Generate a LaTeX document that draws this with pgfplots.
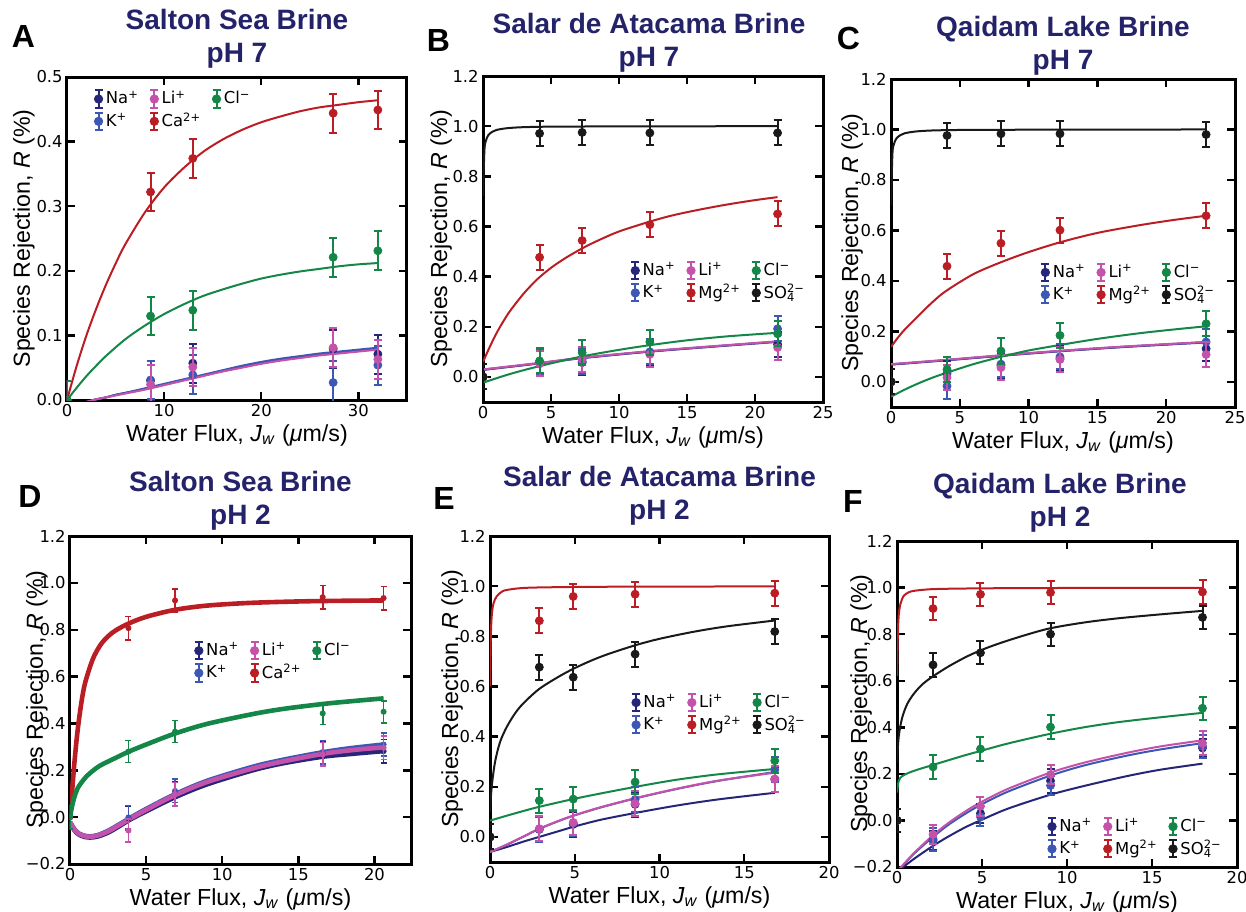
\documentclass[border=0pt]{standalone}
\usepackage{fontspec}
\setmainfont{Liberation Sans}
\newfontfamily\dejavu{DejaVu Sans}
\usepackage{pgfplots}
\pgfplotsset{compat=1.18}

\definecolor{cNa}{RGB}{38,38,120}
\definecolor{cK}{RGB}{60,88,180}
\definecolor{cLi}{RGB}{196,82,170}
\definecolor{cRed}{RGB}{186,30,36}
\definecolor{cCl}{RGB}{20,135,72}
\definecolor{cBk}{RGB}{25,25,25}
\definecolor{cTitle}{RGB}{36,34,105}

\newcommand{\tickf}{\dejavu\fontsize{8.2}{10}\selectfont}
\newcommand{\legf}{\dejavu\fontsize{8.2}{10}\selectfont}
\newcommand{\labf}{\fontsize{11.6}{13}\selectfont}
\newcommand{\titf}{\fontsize{14}{16.5}\selectfont\bfseries}
\newcommand{\letf}{\fontsize{16}{16}\selectfont\bfseries}

\pgfplotsset{
  every axis title/.style={font=\titf, text=cTitle, align=center, at={(0.5,1)}, anchor=south, inner sep=0pt},
  every axis x label/.style={font=\labf, at={([yshift=-20.5pt]axis description cs:0.5,0)}, anchor=base},
  every axis y label/.style={font=\labf, at={([xshift=-17pt]axis description cs:0,0.5)}, anchor=base, rotate=90},
  panel/.style={
    scale only axis,
    clip marker paths=true,
    axis line style={line width=1.5pt, black},
    tick align=inside,
    major tick length=4pt,
    tick style={line width=1.2pt, black},
    /pgf/number format/assume math mode=true,
    xticklabel style={font=\tickf, inner sep=2pt},
    yticklabel style={font=\tickf, inner sep=2pt},
    xlabel={Water Flux, \textit{J}\textsubscript{\textit{w}} (\textit{μ}m/s)},
    ylabel={Species Rejection, \textit{R} (\%)},
    legend style={draw=none, fill=none, font=\legf, inner sep=0pt, anchor=north west,
      nodes={inner sep=1.2pt}, row sep=0.5pt,
      /tikz/every even column/.append style={column sep=4pt}},
    legend columns=3,
    legend cell align=left,
  },
  pts/.style={only marks, mark=*, mark size=2pt, color=#1, forget plot,
    /pgfplots/error bars/y dir=both, /pgfplots/error bars/y explicit,
    /pgfplots/error bars/error bar style={line width=1pt, #1},
    /pgfplots/error bars/error mark options={rotate=90, mark size=2pt, line width=1pt, #1}},
  ptsD/.style={only marks, mark=*, mark size=1.3pt, color=#1, forget plot,
    /pgfplots/error bars/y dir=both, /pgfplots/error bars/y explicit,
    /pgfplots/error bars/error bar style={line width=0.8pt, #1},
    /pgfplots/error bars/error mark options={rotate=90, mark size=1.5pt, line width=0.8pt, #1}},
  fitc/.style={no marks, smooth, line width=1pt, color=#1, forget plot},
  fitD/.style={no marks, smooth, line width=2.3pt, color=#1, forget plot},
  legerr/.style={color=#1, legend image code/.code={
      \draw[#1, line width=1pt] (0pt,-4.3pt) -- (0pt,4.3pt) (-2pt,-4.3pt) -- (2pt,-4.3pt) (-2pt,4.3pt) -- (2pt,4.3pt);
      \fill[#1] (0pt,0pt) circle (2.1pt);}},
}

\newcommand{\LNa}{\addlegendimage{legerr=cNa}\addlegendentry{Na\textsuperscript{+}}}
\newcommand{\LK}{\addlegendimage{legerr=cK}\addlegendentry{K\textsuperscript{+}}}
\newcommand{\LLi}{\addlegendimage{legerr=cLi}\addlegendentry{Li\textsuperscript{+}}}
\newcommand{\LCa}{\addlegendimage{legerr=cRed}\addlegendentry{Ca\textsuperscript{2+}}}
\newcommand{\LMg}{\addlegendimage{legerr=cRed}\addlegendentry{Mg\textsuperscript{2+}}}
\newcommand{\LCl}{\addlegendimage{legerr=cCl}\addlegendentry{Cl\textsuperscript{−}}}
\newcommand{\LSO}{\addlegendimage{legerr=cBk}\addlegendentry{SO\rlap{\textsubscript{4}}\textsuperscript{2−}}}

\begin{document}
\begin{tikzpicture}
\path[use as bounding box] (0,0) rectangle (623pt,-455.5pt);

% ---------------- A ----------------
\begin{axis}[panel, at={(33.5pt,-38.5pt)}, anchor=north west, width=170pt, height=161.5pt,
  xmin=0, xmax=35, ymin=0, ymax=0.5, xtick={0,10,20,30},
  ytick={0,0.1,0.2,0.3,0.4,0.5}, yticklabels={0.0,0.1,0.2,0.3,0.4,0.5},
  title={Salton Sea Brine\\pH 7}, title style={yshift=4.1pt},
  ylabel style={at={([xshift=-18.5pt]axis description cs:0,0.5)}},
  legend style={at={(0.077,0.965)}}]
\addplot[fitc=cRed] coordinates {(0,0)(1,0.053)(2,0.100)(3,0.141)(4,0.178)(5,0.211)(6,0.241)(8,0.290)(10,0.329)(12,0.359)(14,0.384)(16,0.403)(18,0.418)(20,0.430)(22,0.439)(24,0.447)(26,0.453)(28,0.457)(30,0.461)(32,0.464)};
\addplot[fitc=cCl] coordinates {(0,0)(1,0.019)(2,0.037)(3,0.053)(4,0.068)(6,0.094)(8,0.115)(10,0.133)(12,0.148)(14,0.161)(16,0.171)(18,0.180)(20,0.188)(22,0.194)(24,0.199)(26,0.203)(28,0.207)(30,0.210)(32,0.212)};
\addplot[fitc=cNa] coordinates {(0,-0.012)(1,-0.008)(2,-0.003)(3,0.001)(4,0.004)(5,0.008)(6,0.011)(8,0.017)(10,0.024)(12,0.031)(14,0.038)(16,0.045)(18,0.051)(20,0.057)(22,0.062)(24,0.066)(26,0.070)(28,0.073)(30,0.076)(32,0.079)};
\addplot[fitc=cK] coordinates {(0,-0.012)(1,-0.008)(2,-0.003)(3,0.001)(4,0.004)(5,0.008)(6,0.011)(8,0.018)(10,0.025)(12,0.032)(14,0.039)(16,0.046)(18,0.053)(20,0.059)(22,0.064)(24,0.068)(26,0.072)(28,0.075)(30,0.078)(32,0.081)};
\addplot[fitc=cLi] coordinates {(0,-0.012)(1,-0.008)(2,-0.003)(3,0.001)(4,0.004)(5,0.007)(6,0.010)(8,0.016)(10,0.023)(12,0.030)(14,0.037)(16,0.044)(18,0.050)(20,0.056)(22,0.061)(24,0.065)(26,0.069)(28,0.072)(30,0.075)(32,0.078)};
\addplot[pts=cNa] coordinates {(0,0) +- (0,0.03) (8.6,0.030) +- (0,0.03) (12.95,0.057) +- (0,0.03) (27.4,0.079) +- (0,0.03) (32,0.071) +- (0,0.03)};
\addplot[pts=cK] coordinates {(0,0) +- (0,0.03) (8.6,0.031) +- (0,0.03) (12.95,0.039) +- (0,0.03) (27.4,0.027) +- (0,0.033) (32,0.054) +- (0,0.03)};
\addplot[pts=cLi] coordinates {(0,0) +- (0,0.03) (8.6,0.024) +- (0,0.03) (12.95,0.051) +- (0,0.03) (27.4,0.081) +- (0,0.03) (32,0.063) +- (0,0.03)};
\addplot[pts=cRed] coordinates {(0,0) +- (0,0.03) (8.6,0.322) +- (0,0.03) (12.95,0.374) +- (0,0.03) (27.4,0.444) +- (0,0.03) (32,0.449) +- (0,0.03)};
\addplot[pts=cCl] coordinates {(0,0) +- (0,0.03) (8.6,0.130) +- (0,0.03) (12.95,0.139) +- (0,0.03) (27.4,0.221) +- (0,0.03) (32,0.231) +- (0,0.03)};
\LNa\LLi\LCl\LK\LCa
\end{axis}

% ---------------- B ----------------
\begin{axis}[panel, at={(241.5pt,-38pt)}, anchor=north west, width=170pt, height=163pt,
  xmin=0, xmax=25, ymin=-0.1, ymax=1.2, xtick={0,5,10,15,20,25},
  ytick={0,0.2,0.4,0.6,0.8,1.0,1.2}, yticklabels={0.0,0.2,0.4,0.6,0.8,1.0,1.2},
  title={Salar de Atacama Brine\\pH 7}, title style={yshift=1.6pt, xshift=-2pt},
  ylabel style={at={([xshift=-18pt]axis description cs:0,0.5)}},
  legend style={at={(0.432,0.436)}}]
\addplot[fitc=cBk] coordinates {(0,0.72)(0.1,0.90)(0.2,0.94)(0.4,0.965)(0.7,0.978)(1,0.985)(1.5,0.99)(2,0.993)(3,0.996)(5,0.998)(10,0.999)(21.66,1.0)};
\addplot[fitc=cRed] coordinates {(0,0.06)(0.5,0.12)(1,0.175)(1.5,0.222)(2,0.264)(3,0.333)(4,0.39)(5,0.435)(6,0.472)(7.3,0.513)(8.5,0.545)(10,0.58)(12.3,0.62)(14,0.645)(16,0.668)(18,0.688)(20,0.705)(21.66,0.717)};
\addplot[fitc=cNa] coordinates {(0,0.028)(4,0.053)(7.3,0.075)(12.3,0.101)(17,0.121)(21.66,0.140)};
\addplot[fitc=cK] coordinates {(0,0.029)(4,0.054)(7.3,0.076)(12.3,0.102)(17,0.122)(21.66,0.141)};
\addplot[fitc=cLi] coordinates {(0,0.03)(4,0.055)(7.3,0.077)(12.3,0.103)(17,0.123)(21.66,0.142)};
\addplot[fitc=cCl] coordinates {(0,-0.023)(1,-0.005)(2,0.012)(3,0.027)(4,0.041)(5,0.054)(7.3,0.082)(10,0.108)(12.3,0.127)(15,0.146)(18,0.162)(21.66,0.176)};
\addplot[pts=cNa] coordinates {(0,0) +- (0,0.05) (4.16,0.055) +- (0,0.05) (7.29,0.057) +- (0,0.05) (12.27,0.095) +- (0,0.05) (21.66,0.130) +- (0,0.05)};
\addplot[pts=cK] coordinates {(0,0) +- (0,0.05) (4.16,0.060) +- (0,0.05) (7.29,0.062) +- (0,0.05) (12.27,0.100) +- (0,0.05) (21.66,0.192) +- (0,0.05)};
\addplot[pts=cLi] coordinates {(0,0) +- (0,0.05) (4.16,0.052) +- (0,0.05) (7.29,0.070) +- (0,0.05) (12.27,0.090) +- (0,0.05) (21.66,0.117) +- (0,0.05)};
\addplot[pts=cRed] coordinates {(0,0) +- (0,0.05) (4.16,0.477) +- (0,0.05) (7.29,0.544) +- (0,0.05) (12.27,0.607) +- (0,0.05) (21.66,0.650) +- (0,0.05)};
\addplot[pts=cCl] coordinates {(0,0) +- (0,0.05) (4.16,0.064) +- (0,0.05) (7.29,0.097) +- (0,0.05) (12.27,0.139) +- (0,0.05) (21.66,0.172) +- (0,0.05)};
\addplot[pts=cBk] coordinates {(0,0) +- (0,0.05) (4.16,0.971) +- (0,0.05) (7.29,0.975) +- (0,0.05) (12.27,0.973) +- (0,0.05) (21.66,0.973) +- (0,0.05)};
\LNa\LLi\LCl\LK\LMg\LSO
\end{axis}

% ---------------- C ----------------
\begin{axis}[panel, at={(445.5pt,-39.5pt)}, anchor=north west, width=172pt, height=164pt,
  xmin=0, xmax=25, ymin=-0.1, ymax=1.2, xtick={0,5,10,15,20,25},
  ytick={0,0.2,0.4,0.6,0.8,1.0,1.2}, yticklabels={0.0,0.2,0.4,0.6,0.8,1.0,1.2},
  title={Qaidam Lake Brine\\pH 7}, title style={yshift=1.6pt},
  ylabel style={at={([xshift=-16.5pt]axis description cs:0,0.5)}},
  legend style={at={(0.433,0.443)}}]
\addplot[fitc=cBk] coordinates {(0,0.70)(0.1,0.90)(0.2,0.94)(0.4,0.965)(0.7,0.978)(1,0.985)(1.5,0.99)(2,0.993)(3,0.996)(5,0.998)(10,0.999)(22.9,1.0)};
\addplot[fitc=cRed] coordinates {(0,0.138)(0.5,0.175)(1,0.207)(2,0.262)(3,0.315)(4,0.36)(6,0.427)(8,0.474)(10,0.514)(12.3,0.553)(15,0.59)(18,0.62)(20.5,0.641)(22.9,0.658)};
\addplot[fitc=cNa] coordinates {(0,0.068)(4,0.085)(8,0.103)(12.3,0.121)(17,0.138)(22.9,0.156)};
\addplot[fitc=cK] coordinates {(0,0.069)(4,0.086)(8,0.104)(12.3,0.122)(17,0.139)(22.9,0.157)};
\addplot[fitc=cLi] coordinates {(0,0.07)(4,0.087)(8,0.105)(12.3,0.123)(17,0.14)(22.9,0.158)};
\addplot[fitc=cCl] coordinates {(0,-0.059)(1,-0.031)(2,-0.006)(3,0.016)(4,0.035)(6,0.07)(8,0.099)(10,0.124)(12.3,0.146)(15,0.17)(18,0.192)(20.5,0.207)(22.9,0.22)};
\addplot[pts=cNa] coordinates {(0,0) +- (0,0.05) (4.07,0.033) +- (0,0.05) (7.99,0.065) +- (0,0.05) (12.28,0.092) +- (0,0.05) (22.9,0.131) +- (0,0.05)};
\addplot[pts=cK] coordinates {(0,0) +- (0,0.05) (4.07,-0.017) +- (0,0.05) (7.99,0.070) +- (0,0.05) (12.28,0.099) +- (0,0.05) (22.9,0.158) +- (0,0.05)};
\addplot[pts=cLi] coordinates {(0,0) +- (0,0.05) (4.07,0.017) +- (0,0.05) (7.99,0.056) +- (0,0.05) (12.28,0.088) +- (0,0.05) (22.9,0.108) +- (0,0.05)};
\addplot[pts=cRed] coordinates {(0,0) +- (0,0.05) (4.07,0.458) +- (0,0.05) (7.99,0.549) +- (0,0.05) (12.28,0.601) +- (0,0.05) (22.9,0.658) +- (0,0.05)};
\addplot[pts=cCl] coordinates {(0,0) +- (0,0.05) (4.07,0.049) +- (0,0.05) (7.99,0.122) +- (0,0.05) (12.28,0.184) +- (0,0.05) (22.9,0.230) +- (0,0.05)};
\addplot[pts=cBk] coordinates {(0,0) +- (0,0.05) (4.07,0.976) +- (0,0.05) (7.99,0.983) +- (0,0.05) (12.28,0.983) +- (0,0.05) (22.9,0.980) +- (0,0.05)};
\LNa\LLi\LCl\LK\LMg\LSO
\end{axis}

% ---------------- D ----------------
\begin{axis}[panel, at={(35pt,-268pt)}, anchor=north west, width=170.5pt, height=164pt,
  xmin=0, xmax=22.4, ymin=-0.2, ymax=1.2, xtick={0,5,10,15,20},
  ytick={-0.2,0,0.2,0.4,0.6,0.8,1.0,1.2}, yticklabels={−0.2,0.0,0.2,0.4,0.6,0.8,1.0,1.2},
  title={Salton Sea Brine\\pH 2}, title style={yshift=2.6pt},
  ylabel style={at={([xshift=-13.5pt]axis description cs:0,0.5)}},
  legend style={at={(0.362,0.683)}}]
\addplot[fitD=cRed] coordinates {(0,0)(0.15,0.12)(0.3,0.24)(0.5,0.37)(0.75,0.49)(1,0.575)(1.5,0.675)(2,0.735)(2.5,0.772)(3,0.797)(3.8,0.825)(5,0.855)(6.9,0.885)(9,0.903)(12,0.915)(16,0.922)(20.6,0.925)};
\addplot[fitD=cCl] coordinates {(0,0)(0.2,0.065)(0.5,0.123)(1,0.168)(1.5,0.198)(2,0.221)(3,0.253)(3.8,0.278)(5,0.31)(6.9,0.357)(9,0.398)(12,0.44)(14,0.462)(16.6,0.483)(18.5,0.495)(20.6,0.507)};
\addplot[fitD=cNa] coordinates {(0,-0.025)(0.3,-0.057)(0.6,-0.075)(1,-0.085)(1.3,-0.087)(1.8,-0.083)(2.5,-0.066)(3.2,-0.04)(3.9,-0.012)(5,0.025)(6.9,0.085)(9,0.14)(12,0.2)(14,0.23)(16.6,0.258)(18.5,0.27)(20.6,0.282)};
\addplot[fitD=cK] coordinates {(0,-0.02)(0.3,-0.052)(0.6,-0.07)(1,-0.08)(1.3,-0.082)(1.8,-0.077)(2.5,-0.058)(3.2,-0.032)(3.9,-0.005)(5,0.035)(6.9,0.098)(9,0.155)(12,0.215)(14,0.245)(16.6,0.277)(18.5,0.295)(20.6,0.31)};
\addplot[fitD=cLi] coordinates {(0,-0.022)(0.3,-0.054)(0.6,-0.072)(1,-0.082)(1.3,-0.084)(1.8,-0.079)(2.5,-0.061)(3.2,-0.035)(3.9,-0.008)(5,0.031)(6.9,0.094)(9,0.15)(12,0.208)(14,0.238)(16.6,0.27)(18.5,0.286)(20.6,0.298)};
\addplot[ptsD=cNa] coordinates {(0,0) +- (0,0.05) (3.84,-0.005) +- (0,0.05) (6.9,0.100) +- (0,0.05) (16.6,0.270) +- (0,0.05) (20.6,0.282) +- (0,0.05)};
\addplot[ptsD=cK] coordinates {(0,0) +- (0,0.05) (3.84,-0.001) +- (0,0.05) (6.9,0.112) +- (0,0.05) (16.6,0.278) +- (0,0.05) (20.6,0.310) +- (0,0.05)};
\addplot[ptsD=cLi] coordinates {(0,0) +- (0,0.05) (3.84,-0.057) +- (0,0.05) (6.9,0.098) +- (0,0.05) (16.6,0.268) +- (0,0.05) (20.6,0.296) +- (0,0.05)};
\addplot[ptsD=cRed] coordinates {(0,0) +- (0,0.05) (3.84,0.807) +- (0,0.05) (6.9,0.925) +- (0,0.05) (16.6,0.939) +- (0,0.05) (20.6,0.935) +- (0,0.05)};
\addplot[ptsD=cCl] coordinates {(0,0) +- (0,0.05) (3.84,0.280) +- (0,0.047) (6.9,0.365) +- (0,0.047) (16.6,0.443) +- (0,0.047) (20.6,0.450) +- (0,0.047)};
\LNa\LLi\LCl\LK\LCa
\end{axis}

% ---------------- E ----------------
\begin{axis}[panel, at={(245pt,-268pt)}, anchor=north west, width=169.5pt, height=163pt,
  xmin=0, xmax=20, ymin=-0.1, ymax=1.2, xtick={0,5,10,15,20},
  ytick={0,0.2,0.4,0.6,0.8,1.0,1.2}, yticklabels={0.0,0.2,0.4,0.6,0.8,1.0,1.2},
  title={Salar de Atacama Brine\\pH 2}, title style={yshift=5.1pt},
  ylabel style={at={([xshift=-16pt]axis description cs:0,0.5)}},
  legend style={at={(0.415,0.522)}}]
\addplot[fitc=cRed] coordinates {(0,0.6)(0.05,0.8)(0.1,0.88)(0.2,0.93)(0.4,0.96)(0.7,0.978)(1,0.985)(2,0.993)(4,0.996)(8,0.998)(16.8,0.999)};
\addplot[fitc=cBk] coordinates {(0,0.1)(0.1,0.2)(0.3,0.3)(0.6,0.38)(1,0.44)(1.5,0.495)(2,0.535)(2.9,0.59)(4,0.637)(4.9,0.67)(6,0.704)(7,0.73)(8.6,0.765)(10,0.79)(12,0.818)(14,0.84)(16.8,0.863)};
\addplot[fitc=cNa] coordinates {(0,-0.06)(1,-0.04)(2,-0.018)(2.9,0.0)(4,0.022)(4.9,0.04)(6.5,0.068)(8.6,0.096)(11,0.125)(13.5,0.15)(16.8,0.176)};
\addplot[fitc=cK] coordinates {(0,-0.06)(1,-0.031)(2,0.002)(2.9,0.032)(4,0.062)(4.9,0.084)(6.5,0.117)(8.6,0.154)(11,0.191)(13.5,0.224)(16.8,0.259)};
\addplot[fitc=cLi] coordinates {(0,-0.06)(1,-0.03)(2,0.003)(2.9,0.033)(4,0.063)(4.9,0.085)(6.5,0.118)(8.6,0.155)(11,0.192)(13.5,0.225)(16.8,0.256)};
\addplot[fitc=cCl] coordinates {(0,0.065)(1,0.085)(2,0.104)(2.9,0.12)(4.9,0.151)(6.5,0.173)(8.6,0.2)(11,0.228)(13.5,0.25)(16.8,0.271)};
\addplot[pts=cNa] coordinates {(0,0) +- (0,0.05) (2.91,0.030) +- (0,0.05) (4.91,0.050) +- (0,0.05) (8.56,0.130) +- (0,0.05) (16.8,0.230) +- (0,0.05)};
\addplot[pts=cK] coordinates {(0,0) +- (0,0.05) (2.91,0.031) +- (0,0.05) (4.91,0.055) +- (0,0.05) (8.56,0.149) +- (0,0.05) (16.8,0.268) +- (0,0.05)};
\addplot[pts=cLi] coordinates {(0,0) +- (0,0.05) (2.91,0.033) +- (0,0.05) (4.91,0.058) +- (0,0.05) (8.56,0.133) +- (0,0.05) (16.8,0.231) +- (0,0.05)};
\addplot[pts=cRed] coordinates {(0,0) +- (0,0.05) (2.91,0.862) +- (0,0.05) (4.91,0.959) +- (0,0.05) (8.56,0.968) +- (0,0.05) (16.8,0.972) +- (0,0.05)};
\addplot[pts=cCl] coordinates {(0,0) +- (0,0.05) (2.91,0.145) +- (0,0.048) (4.91,0.151) +- (0,0.048) (8.56,0.219) +- (0,0.048) (16.8,0.304) +- (0,0.048)};
\addplot[pts=cBk] coordinates {(0,0) +- (0,0.05) (2.91,0.677) +- (0,0.05) (4.91,0.637) +- (0,0.05) (8.56,0.729) +- (0,0.05) (16.8,0.819) +- (0,0.05)};
\LNa\LLi\LCl\LK\LMg\LSO
\end{axis}

% ---------------- F ----------------
\begin{axis}[panel, at={(448.5pt,-270.5pt)}, anchor=north west, width=170pt, height=163pt,
  xmin=0, xmax=20, ymin=-0.2, ymax=1.2, xtick={0,5,10,15,20},
  ytick={-0.2,0,0.2,0.4,0.6,0.8,1.0,1.2}, yticklabels={−0.2,0.0,0.2,0.4,0.6,0.8,1.0,1.2},
  title={Qaidam Lake Brine\\pH 2}, title style={yshift=4.1pt, xshift=-3.5pt},
  ylabel style={at={([xshift=-15pt]axis description cs:0,0.5)}},
  legend style={at={(0.44,0.157)}}]
\addplot[fitc=cRed] coordinates {(0,0.62)(0.05,0.8)(0.1,0.88)(0.2,0.93)(0.4,0.965)(0.7,0.98)(1,0.986)(2,0.993)(4,0.996)(8,0.998)(17.97,0.999)};
\addplot[fitc=cBk] coordinates {(0,0.25)(0.1,0.36)(0.3,0.44)(0.6,0.5)(1,0.545)(1.5,0.585)(2.1,0.618)(3,0.66)(4,0.7)(4.9,0.73)(6,0.76)(7.5,0.795)(9,0.825)(11,0.85)(13,0.868)(15.5,0.885)(17.97,0.90)};
\addplot[fitc=cCl] coordinates {(0,0.12)(0.1,0.17)(0.3,0.19)(0.7,0.205)(1.2,0.218)(2.1,0.238)(3,0.258)(4,0.28)(4.9,0.298)(6.5,0.33)(9,0.372)(11,0.4)(13,0.422)(15.5,0.443)(17.97,0.462)};
\addplot[fitc=cNa] coordinates {(0,-0.22)(1,-0.165)(2.1,-0.11)(3,-0.07)(4,-0.03)(4.9,0.0)(6.5,0.05)(9,0.11)(11,0.148)(13.5,0.19)(15.5,0.218)(17.97,0.244)};
\addplot[fitc=cK] coordinates {(0,-0.22)(1,-0.143)(2.1,-0.072)(3,-0.02)(4,0.028)(4.9,0.066)(6.5,0.123)(9,0.192)(11,0.236)(13.5,0.278)(15.5,0.305)(17.97,0.332)};
\addplot[fitc=cLi] coordinates {(0,-0.22)(1,-0.14)(2.1,-0.065)(3,-0.012)(4,0.038)(4.9,0.077)(6.5,0.135)(9,0.205)(11,0.248)(13.5,0.29)(15.5,0.318)(17.97,0.344)};
\addplot[pts=cNa] coordinates {(0,0) +- (0,0.05) (2.12,-0.085) +- (0,0.04) (4.91,0.030) +- (0,0.04) (9.03,0.170) +- (0,0.05) (17.97,0.311) +- (0,0.04)};
\addplot[pts=cK] coordinates {(0,0) +- (0,0.05) (2.12,-0.081) +- (0,0.05) (4.91,0.016) +- (0,0.04) (9.03,0.150) +- (0,0.04) (17.97,0.318) +- (0,0.05)};
\addplot[pts=cLi] coordinates {(0,0) +- (0,0.05) (2.12,-0.060) +- (0,0.04) (4.91,0.061) +- (0,0.04) (9.03,0.197) +- (0,0.04) (17.97,0.332) +- (0,0.05)};
\addplot[pts=cRed] coordinates {(0,0) +- (0,0.05) (2.12,0.910) +- (0,0.05) (4.91,0.971) +- (0,0.05) (9.03,0.979) +- (0,0.05) (17.97,0.981) +- (0,0.05)};
\addplot[pts=cCl] coordinates {(0,0) +- (0,0.05) (2.12,0.230) +- (0,0.05) (4.91,0.307) +- (0,0.05) (9.03,0.401) +- (0,0.05) (17.97,0.482) +- (0,0.05)};
\addplot[pts=cBk] coordinates {(0,0) +- (0,0.05) (2.12,0.668) +- (0,0.05) (4.91,0.720) +- (0,0.05) (9.03,0.800) +- (0,0.05) (17.97,0.872) +- (0,0.05)};
\LNa\LLi\LCl\LK\LMg\LSO
\end{axis}

% panel letters
\node[font=\letf, inner sep=0pt] at (11.75pt,-18.25pt) {A};
\node[font=\letf, inner sep=0pt] at (219.25pt,-20pt) {B};
\node[font=\letf, inner sep=0pt] at (424.25pt,-19.25pt) {C};
\node[font=\letf, inner sep=0pt] at (15pt,-248.25pt) {D};
\node[font=\letf, inner sep=0pt] at (222pt,-249.25pt) {E};
\node[font=\letf, inner sep=0pt] at (426.5pt,-250.75pt) {F};
\end{tikzpicture}
\end{document}
